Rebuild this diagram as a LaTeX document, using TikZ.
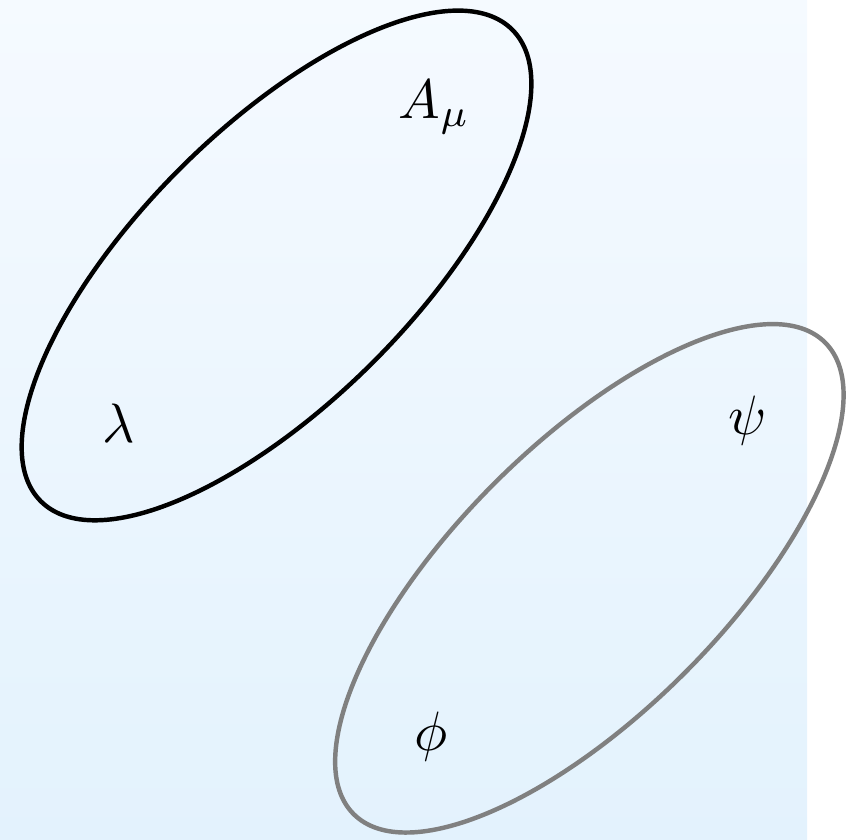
\documentclass[tikz,border=0pt]{standalone}
\usepackage{amsmath,amssymb}
\usepackage{tikz}

\definecolor{bgtop}{RGB}{245,250,255}
\definecolor{bgbot}{RGB}{227,242,253}

\begin{document}
\begin{tikzpicture}[
    blob/.style={thick},
    field/.style={inner sep=1pt},
  ]
    \useasboundingbox (-1.75,-3.636) rectangle (3.604,1.68);
    \shade[top color=bgtop, bottom color=bgbot] (-1.75,-3.636) rectangle (3.358,1.68);

    % first multiplet
    \coordinate (vm) at (0,0);
    \draw[blob, black, rotate around={45:(vm)}] (vm) ellipse (2.11cm and 0.865cm);
    \node[field] (Amu) at (1,1) {$A_\mu$};
    \node[field] (lam) at (-1,-1) {$\lambda$};

    % second multiplet
    \coordinate (cm) at (1.98,-1.98);
    \draw[blob, gray, rotate around={45:(cm)}] (cm) ellipse (2.11cm and 0.85cm);
    \node[field] (psi) at (2.98,-0.98) {$\psi$};
    \node[field] (phi) at (0.98,-2.98) {$\phi$};
\end{tikzpicture}
\end{document}
